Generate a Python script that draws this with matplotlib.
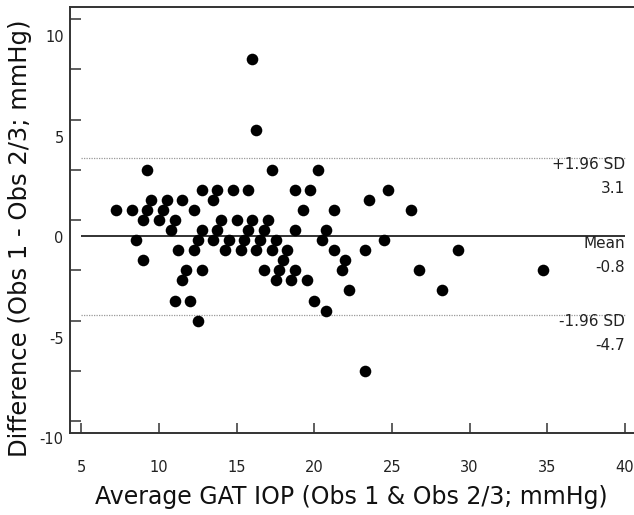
import matplotlib
matplotlib.use("Agg")
import matplotlib.pyplot as plt
from matplotlib.transforms import ScaledTranslation
import numpy as np

# Data (average IOP, difference)
avg_iop = [16.0, 16.25,
           9.25, 17.25, 20.25,
           12.75, 13.75, 14.75, 15.75, 18.75, 19.75, 24.75,
           9.5, 10.5, 11.5, 13.5, 23.5,
           7.25, 8.25, 9.25, 10.25, 12.25, 19.25, 21.25, 26.25,
           9.0, 10.0, 11.0, 14.0, 15.0, 16.0, 17.0,
           10.75, 12.75, 13.75, 15.75, 16.75, 18.75, 20.75,
           8.5, 12.5, 13.5, 14.5, 15.5, 16.5, 17.5, 20.5, 24.5,
           11.25, 12.25, 14.25, 15.25, 16.25, 17.25, 18.25, 21.25, 23.25, 29.25,
           9.0, 18.0, 22.0,
           11.75, 12.75, 16.75, 17.75, 18.75, 21.75, 26.75, 34.75,
           11.5, 17.5, 18.5, 19.5,
           22.25, 28.25,
           11.0, 12.0, 20.0,
           20.75,
           12.5,
           23.25]
difference = [8.0, 4.5,
              2.5, 2.5, 2.5,
              1.5, 1.5, 1.5, 1.5, 1.5, 1.5, 1.5,
              1.0, 1.0, 1.0, 1.0, 1.0,
              0.5, 0.5, 0.5, 0.5, 0.5, 0.5, 0.5, 0.5,
              0, 0, 0, 0, 0, 0, 0,
              -0.5, -0.5, -0.5, -0.5, -0.5, -0.5, -0.5,
              -1, -1, -1, -1, -1, -1, -1, -1, -1,
              -1.5, -1.5, -1.5, -1.5, -1.5, -1.5, -1.5, -1.5, -1.5, -1.5,
              -2, -2, -2,
              -2.5, -2.5, -2.5, -2.5, -2.5, -2.5, -2.5, -2.5,
              -3, -3, -3, -3,
              -3.5, -3.5,
              -4, -4, -4,
              -4.5,
              -5,
              -7.5]

mean_diff = -0.8
upper_loa = 3.1
lower_loa = -4.7
ref_labels = [("+1.96 SD", "3.1", upper_loa), ("Mean", "-0.8", mean_diff), ("-1.96 SD", "-4.7", lower_loa)]

x_ticks = [5, 10, 15, 20, 25, 30, 35, 40]
y_major = [-10, -5, 0, 5, 10]
y_minor = [-7.5, -2.5, 2.5, 7.5]

plt.rcParams['font.family'] = ['DejaVu Sans']
plt.rcParams['axes.unicode_minus'] = False

fig = plt.figure(figsize=(6.34, 5.15), dpi=100)
W, H = 634, 515
ax = fig.add_axes([70 / W, (H - 433.3) / H, (W - 70) / W, (433.3 - 7.3) / H])

ax.set_xlim(4.27, 40.58)
ax.set_ylim(-10.6, 10.58)

ax.scatter(avg_iop, difference, s=70, color='black', zorder=3, linewidths=0)

ax.hlines(mean_diff, 5, 40, colors='#222222', linewidth=1.3, zorder=2)
ax.hlines([upper_loa, lower_loa], 5, 40, colors='#999999', linewidth=0.9,
          linestyles=(0, (1, 1)), zorder=2)

for lab, val, yv in ref_labels:
    ax.annotate(lab, xy=(40, yv), xytext=(0, -5), textcoords='offset points',
                ha='right', va='center', fontsize=11, color='#222222')
    ax.annotate(val, xy=(40, yv), xytext=(0, -22.5), textcoords='offset points',
                ha='right', va='center', fontsize=11, color='#222222')

for side in ['top', 'left', 'bottom']:
    ax.spines[side].set_color('#333333')
    ax.spines[side].set_linewidth(1.4)
ax.spines['right'].set_visible(False)

ax.set_xticks(x_ticks)
ax.set_yticks(y_major)
ax.set_yticks(y_minor, minor=True)
ax.tick_params(axis='x', direction='in', length=7.5, width=1.1, color='#333333',
               pad=19, labelsize=10.5, labelcolor='#222222')
ax.tick_params(axis='y', which='both', direction='in', length=8, width=1.1,
               color='#333333', pad=4.5, labelsize=10.5, labelcolor='#222222')

# tick labels on the y axis sit ~17 px below their ticks in the reference
offset = ScaledTranslation(0, -17 / 100, fig.dpi_scale_trans)
for lbl in ax.get_yticklabels():
    lbl.set_transform(lbl.get_transform() + offset)

ax.set_xlabel("Average GAT IOP (Obs 1 & Obs 2/3; mmHg)", fontsize=17, color='#111111', va='center')
ax.xaxis.set_label_coords((351 - 70) / (W - 70), (433.3 - 497) / (433.3 - 7.3))
ax.set_ylabel("Difference (Obs 1 - Obs 2/3; mmHg)", fontsize=17.5, color='#111111', va='center')
ax.yaxis.set_label_coords((20 - 70) / (W - 70), (433.3 - 238) / (433.3 - 7.3))

fig.savefig("out.png", dpi=100)
